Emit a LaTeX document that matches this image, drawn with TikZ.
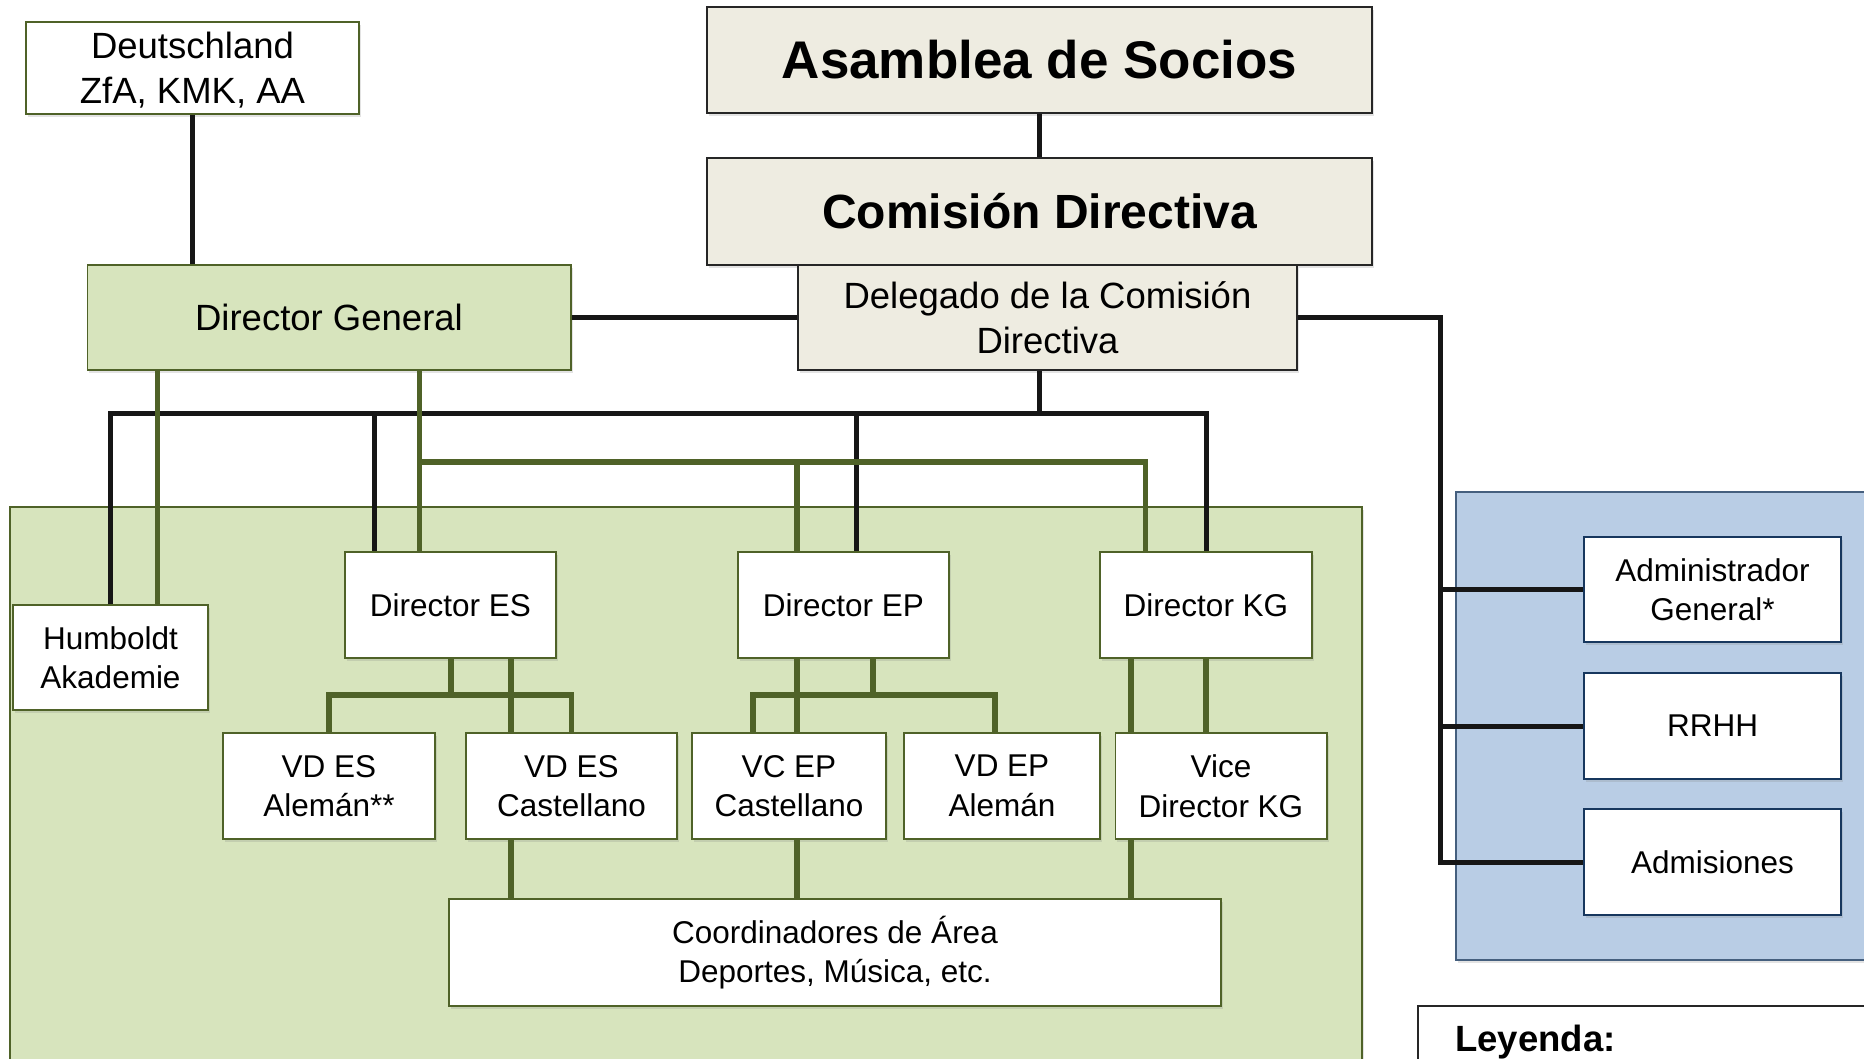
\documentclass[tikz,border=0pt]{standalone}
\usepackage{fontspec}
\setmainfont{Liberation Sans}
\usetikzlibrary{shadows}
\definecolor{grfill}{HTML}{D7E4BD}
\definecolor{grline}{HTML}{4F6228}
\definecolor{topfill}{HTML}{EEECE1}
\definecolor{topline}{HTML}{262626}
\definecolor{blfill}{HTML}{B9CDE5}
\definecolor{blline}{HTML}{17375E}
\definecolor{lineblk}{HTML}{161616}

\begin{document}
\begin{tikzpicture}[x=1pt,y=-1pt]
\tikzstyle{every node}=[inner sep=0pt,align=center]
\tikzstyle{soft}=[drop shadow={opacity=0.22,shadow xshift=2pt,shadow yshift=-3pt}]
\tikzstyle{chief}=[draw=topline,fill=topfill,line width=1.5pt,soft]
\tikzstyle{head}=[draw=grline,line width=1.5pt,soft,font=\fontsize{36.5}{45}\selectfont]
\tikzstyle{unitbox}=[draw=grline,fill=white,line width=1.5pt,soft,minimum height=106pt,font=\fontsize{31.5}{39.5}\selectfont]
\tikzstyle{admbox}=[draw=blline,fill=white,line width=1.5pt,soft,minimum width=257pt,minimum height=106pt,font=\fontsize{31.5}{39}\selectfont]
\tikzstyle{blk}=[draw=lineblk,line width=5pt]
\tikzstyle{grn}=[draw=grline,line width=5.5pt]
 \useasboundingbox (0,0) rectangle (1864,1059);
 \clip (0,0) rectangle (1864,1059);

 \filldraw[fill=grfill,draw=grline,line width=1.5pt,soft] (10,507) rectangle (1362,1095);
 \filldraw[fill=blfill,draw=blline!80,line width=1.5pt,soft] (1456,492) rectangle (1895,960);
 \filldraw[fill=white,draw=topline,line width=1.5pt,soft] (1418,1006) rectangle (1895,1095);
 \node[anchor=base west,font=\bfseries\fontsize{36.5}{44}\selectfont] (ley) at (1455,1051) {Leyenda:};

 \node[head,fill=white,minimum width=333pt,minimum height=92pt,text depth=0pt] (deu) at (192.5,68) {Deutschland\\ZfA, KMK, AA};
 \node[chief,minimum width=665pt,minimum height=106pt,font=\bfseries\fontsize{53}{60}\selectfont] (asam) at (1039.5,60) {Asamblea de Socios};
 \node[chief,minimum width=665pt,minimum height=107pt,font=\bfseries\fontsize{48}{56}\selectfont] (com) at (1039.5,211.5) {Comisión Directiva};
 \node[chief,minimum width=499pt,minimum height=105pt,font=\fontsize{36.5}{45}\selectfont] (del) at (1047.5,317.5) {Delegado de la Comisión\\Directiva};
 \node[head,fill=grfill,minimum width=483.5pt,minimum height=105pt] (dg) at (329,317.5) {Director General};

 \node[unitbox,minimum width=195pt,minimum height=105pt] (hum) at (110.5,657.5) {Humboldt\\Akademie};
 \node[unitbox,minimum width=211pt] (des) at (450.5,605) {Director ES};
 \node[unitbox,minimum width=211pt] (dep) at (843.5,605) {Director EP};
 \node[unitbox,minimum width=212pt] (dkg) at (1206,605) {Director KG};
 \node[unitbox,minimum width=212pt] (vdesa) at (329,786) {VD ES\\Alemán**};
 \node[unitbox,minimum width=211pt] (vdesc) at (571.5,786) {VD ES\\Castellano};
 \node[unitbox,minimum width=194pt] (vcep) at (789,786) {VC EP\\Castellano};
 \node[unitbox,minimum width=196pt] (vdep) at (1002,786) {VD EP\\Alemán};
 \node[unitbox,minimum width=211.5pt] (vdkg) at (1221,786) {Vice\\Director KG};
 \node[unitbox,minimum width=772pt,minimum height=107pt] (coord) at (835,952.5) {Coordinadores de Área\\Deportes, Música, etc.};

 \node[admbox,minimum height=105pt] (agen) at (1712.5,589.5) {Administrador\\General*};
 \node[admbox] (rrhh) at (1712.5,726) {RRHH};
 \node[admbox] (admi) at (1712.5,862) {Admisiones};

 \coordinate (kbus) at (0,413);
 \coordinate (gbus) at (0,462);
 \coordinate (sbus) at (0,695);
 \coordinate (rlane) at (1440,0);
 \coordinate (ghum) at (157.6,0);
 \coordinate (kes) at (374,0);
 \coordinate (ges) at (419.6,0);
 \coordinate (esa) at (451,0);
 \coordinate (esb) at (511,0);
 \coordinate (epa) at (753,0);
 \coordinate (gep) at (797,0);
 \coordinate (kep) at (856,0);
 \coordinate (epb) at (873,0);
 \coordinate (epc) at (995,0);
 \coordinate (kga) at (1131,0);
 \coordinate (gkg) at (1145.5,0);

 \draw[blk] (deu.south) -- (deu.south |- dg.north);
 \draw[blk] (asam.south) -- (com.north);
 \draw[blk] (dg.east) -- (del.west);
 \draw[blk] (del.east) -| (rlane |- admi.west) -- (admi.west);
 \draw[blk] (rlane |- agen.west) -- (agen.west);
 \draw[blk] (rlane |- rrhh.west) -- (rrhh.west);
 \draw[blk] (del.south -| com.south) -- (kbus -| com.south);
 \draw[blk] (hum.north) |- (kbus -| dkg.north) -- (dkg.north);
 \draw[blk] (kbus -| kes) -- (des.north -| kes);
 \draw[blk] (kbus -| kep) -- (dep.north -| kep);

 \draw[grn] (dg.south -| ghum) -- (hum.north -| ghum);
 \draw[grn] (dg.south -| ges) -- (des.north -| ges);
 \draw[grn] (gbus -| ges) -| (dkg.north -| gkg);
 \draw[grn] (gbus -| gep) -- (dep.north -| gep);
 \draw[grn] (des.south -| esa) -- (sbus -| esa);
 \draw[grn] (vdesa.north) |- (sbus -| vdesc.north) -- (vdesc.north);
 \draw[grn] (des.south -| esb) -- (vdesc.north -| esb);
 \draw[grn] (dep.south -| epb) -- (sbus -| epb);
 \draw[grn] (vcep.north -| epa) |- (sbus -| epc) -- (vdep.north -| epc);
 \draw[grn] (dep.south -| gep) -- (vcep.north -| gep);
 \draw[grn] (dkg.south -| kga) -- (vdkg.north -| kga);
 \draw[grn] (dkg.south) -- (vdkg.north -| dkg.south);
 \draw[grn] (vdesc.south -| esb) -- (coord.north -| esb);
 \draw[grn] (vcep.south -| gep) -- (coord.north -| gep);
 \draw[grn] (vdkg.south -| kga) -- (coord.north -| kga);
\end{tikzpicture}
\end{document}
